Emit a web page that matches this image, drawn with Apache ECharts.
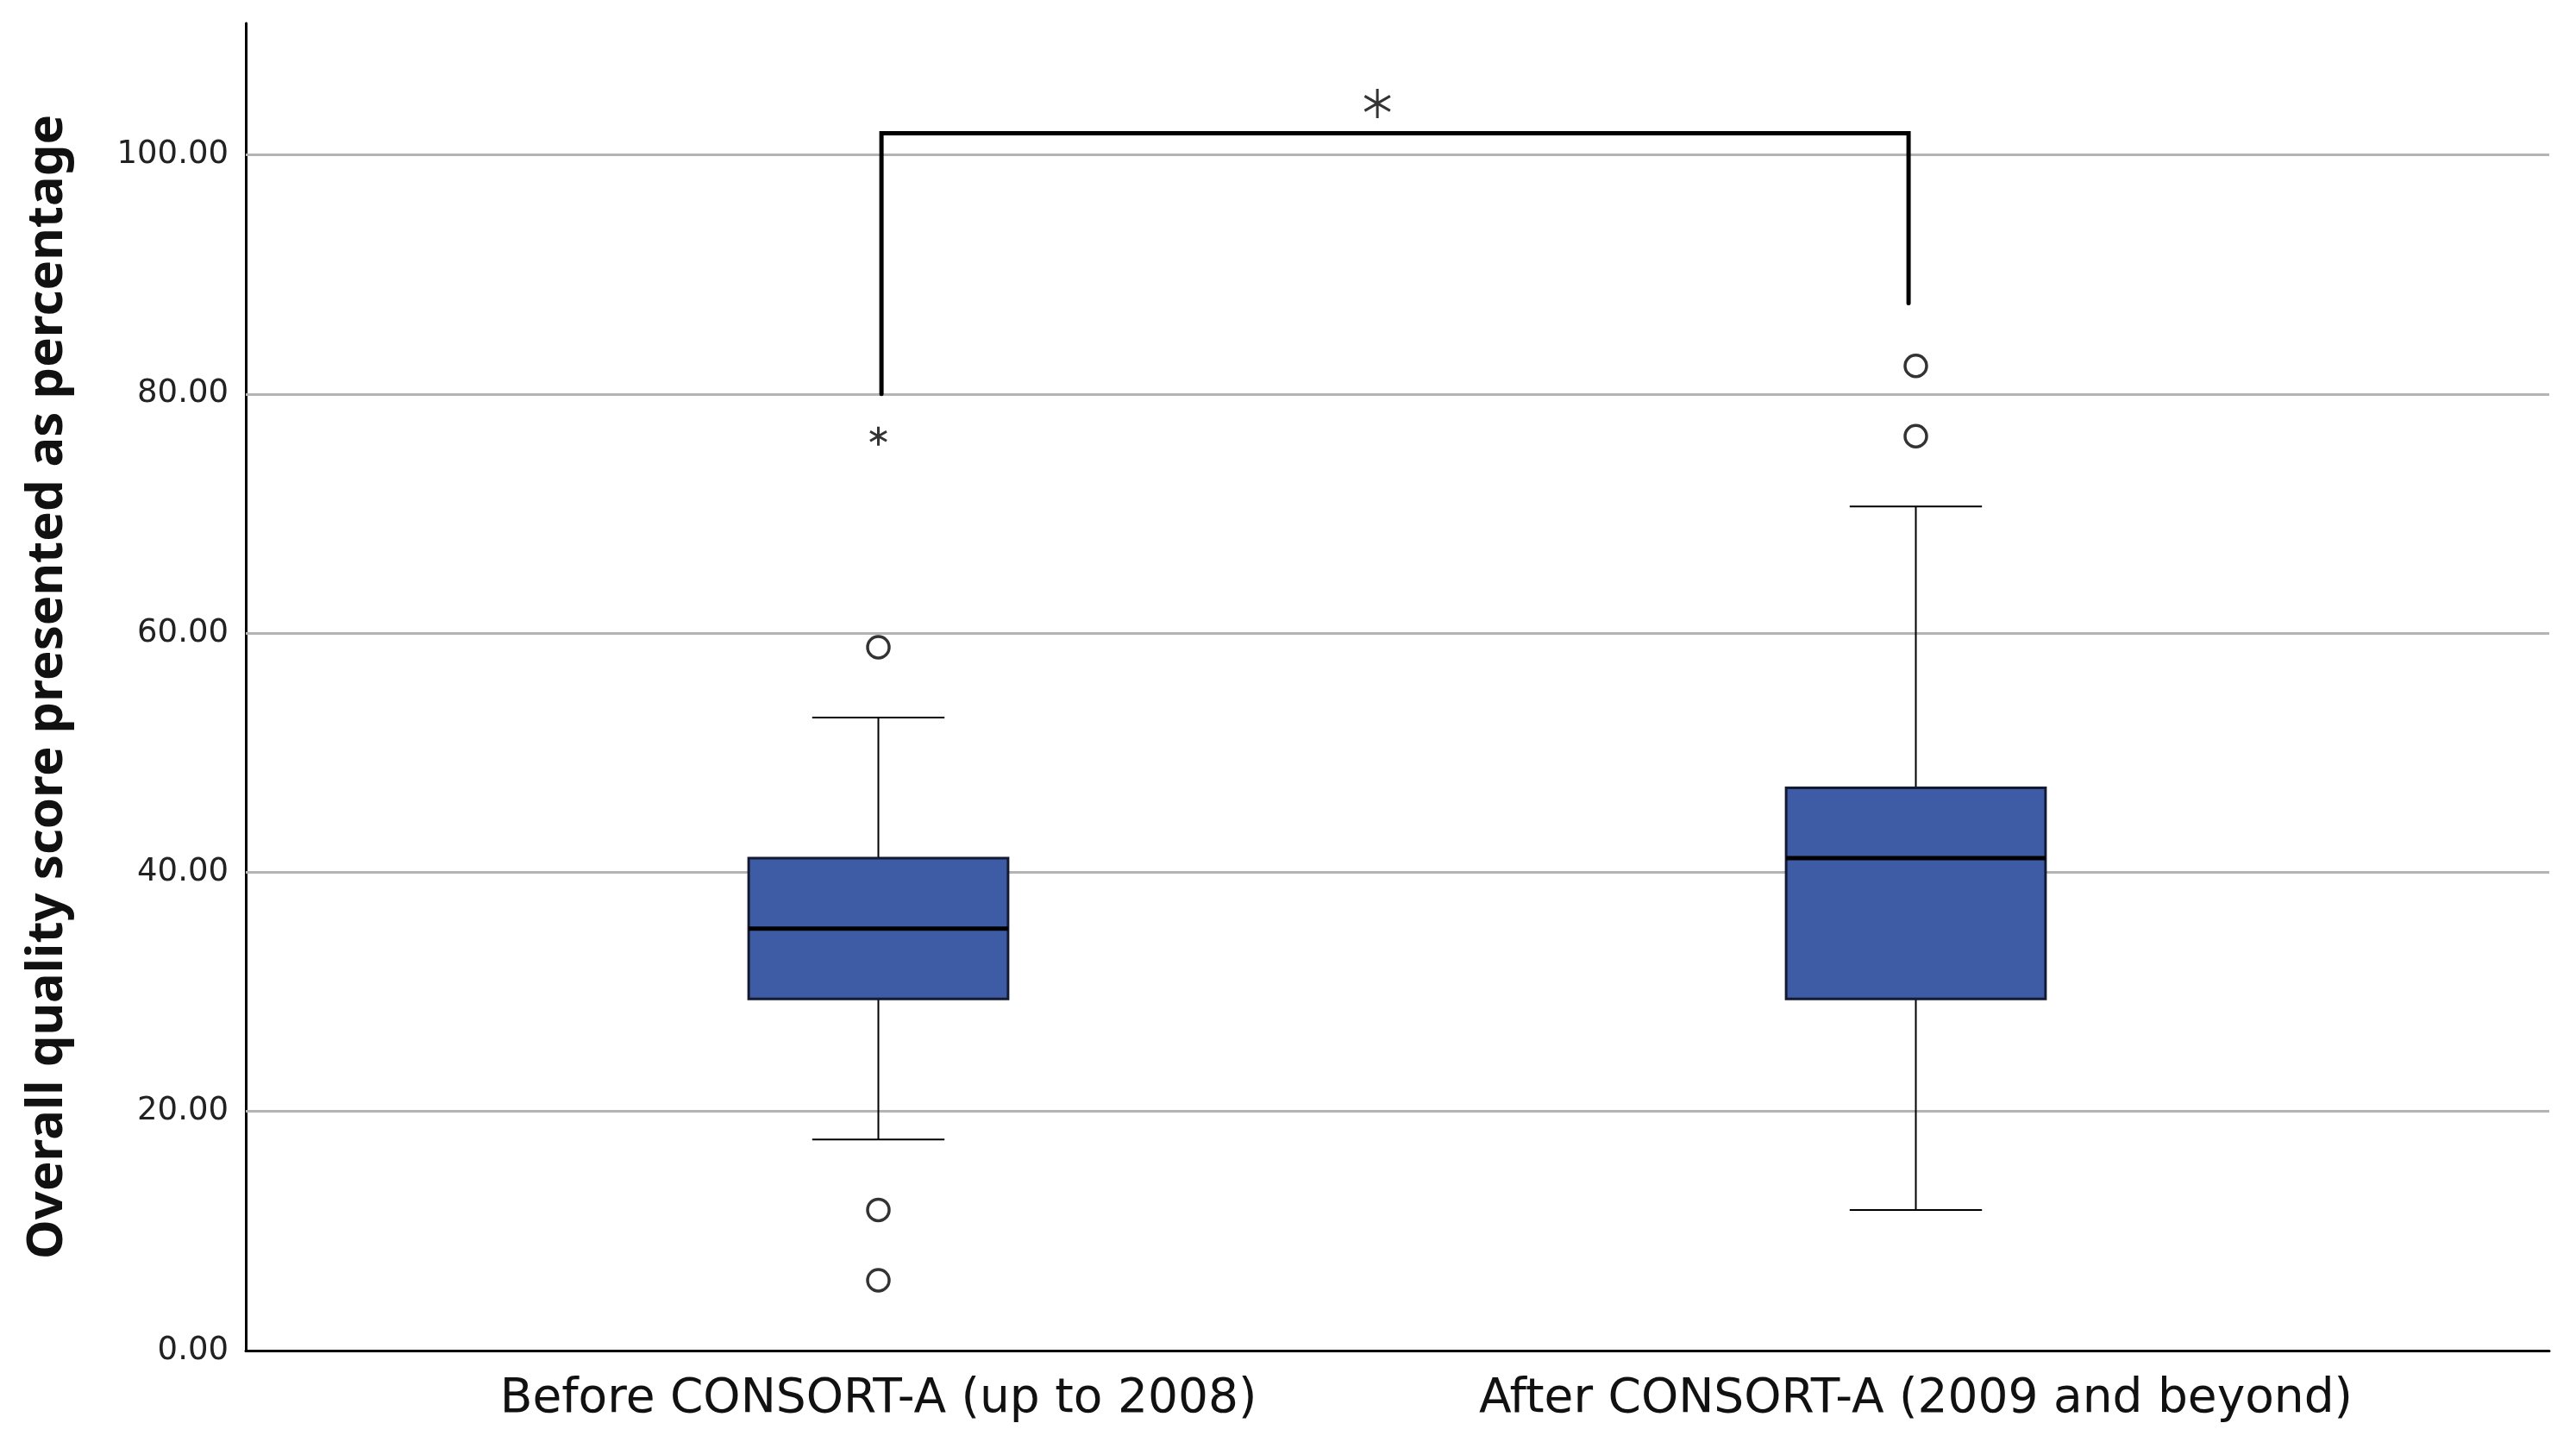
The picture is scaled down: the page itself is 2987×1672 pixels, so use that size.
<!DOCTYPE html>
<html>
<head>
    <meta charset="UTF-8">
    <script src="https://cdn.jsdelivr.net/npm/echarts@6/dist/echarts.min.js"></script>
    <style>
        html, body { margin: 0; padding: 0; background: #fff; }
        #chartMain { width: 2987px; height: 1672px; }
    </style>
</head>
<body>
<div id="chartMain"></div>

<script type="text/javascript">
    var categories = ['Before CONSORT-A (up to 2008)', 'After CONSORT-A (2009 and beyond)'];
    // lower whisker, Q1, median, Q3, upper whisker
    var boxStats = [
        [17.65, 29.41, 35.29, 41.18, 52.94],
        [11.76, 29.41, 41.18, 47.06, 70.59]
    ];
    var outliers = [[0, 58.82], [0, 11.76], [0, 5.88], [1, 76.47], [1, 82.35]];
    var extremes = [[0, 76.47]];
    var yTicks = [20, 40, 60, 80, 100];
    // significance bracket, x in category units
    var bracket = [[0.003, 80], [0.003, 101.8], [0.993, 101.8], [0.993, 87.6]];
    var sigMark = [[0.481, 104.3]];

    var asterisk = 'path://M0,-1L0,1M-0.866,-0.5L0.866,0.5M-0.866,0.5L0.866,-0.5';

    function renderBox(params, api) {
        var i = api.value(0);
        var lo = api.coord([i, api.value(1)]);
        var q1 = api.coord([i, api.value(2)]);
        var med = api.coord([i, api.value(3)]);
        var q3 = api.coord([i, api.value(4)]);
        var hi = api.coord([i, api.value(5)]);
        var band = api.size([1, 0])[0];
        var bw = band * 0.25;
        var cw = bw * 0.51;
        var cx = lo[0];
        var thin = {stroke: '#000', lineWidth: 2};
        return {
            type: 'group',
            children: [
                {type: 'line', shape: {x1: cx, y1: hi[1], x2: cx, y2: q3[1]}, style: thin},
                {type: 'line', shape: {x1: cx, y1: q1[1], x2: cx, y2: lo[1]}, style: thin},
                {type: 'line', shape: {x1: cx - cw / 2, y1: hi[1], x2: cx + cw / 2, y2: hi[1]}, style: thin},
                {type: 'line', shape: {x1: cx - cw / 2, y1: lo[1], x2: cx + cw / 2, y2: lo[1]}, style: thin},
                {
                    type: 'rect',
                    shape: {x: cx - bw / 2, y: q3[1], width: bw, height: q1[1] - q3[1]},
                    style: {fill: '#3e5ba6', stroke: '#151a33', lineWidth: 3}
                },
                {
                    type: 'line',
                    shape: {x1: cx - bw / 2, y1: med[1], x2: cx + bw / 2, y2: med[1]},
                    style: {stroke: '#000', lineWidth: 5}
                }
            ]
        };
    }

    var myChart = echarts.init(document.getElementById('chartMain'));
    var option = {
        animation: false,
        backgroundColor: '#fff',
        grid: [
            {left: 285, right: 31, top: 27, bottom: 106},
            {left: 417, right: 164, top: 27, bottom: 106}
        ],
        xAxis: [
            {
                type: 'value', gridIndex: 0, min: 0, max: 1,
                axisLine: {show: true, lineStyle: {color: '#000', width: 3}},
                axisTick: {show: false}, axisLabel: {show: false}, splitLine: {show: false}
            },
            {
                type: 'category', gridIndex: 1, data: categories,
                axisLine: {show: false}, axisTick: {show: false},
                axisLabel: {
                    margin: 29, fontSize: 55, color: '#111',
                    fontFamily: 'DejaVu Sans', interval: 0
                },
                splitLine: {show: false}
            },
            {
                type: 'value', gridIndex: 1, min: -0.5, max: 1.5, show: false
            }
        ],
        yAxis: [
            {
                type: 'value', gridIndex: 0, min: 0, max: 111, interval: 20,
                name: 'Overall quality score presented as percentage',
                nameLocation: 'middle', nameGap: 201,
                nameTextStyle: {fontFamily: 'Noto Sans', fontWeight: 'bold', fontSize: 58, color: '#111'},
                axisLine: {show: true, lineStyle: {color: '#000', width: 3}},
                axisTick: {show: false},
                axisLabel: {
                    margin: 20, fontSize: 37, color: '#222', fontFamily: 'DejaVu Sans',
                    showMaxLabel: false,
                    formatter: function (v) { return v.toFixed(2); }
                },
                splitLine: {show: false}
            },
            {type: 'value', gridIndex: 1, min: 0, max: 111, show: false}
        ],
        series: [
            {
                type: 'line', xAxisIndex: 0, yAxisIndex: 0, data: [], z: 0,
                markLine: {
                    z: 1,
                    silent: true, symbol: 'none', label: {show: false},
                    lineStyle: {color: '#b4b4b4', width: 3, type: 'solid'},
                    data: yTicks.map(function (v) { return {yAxis: v}; })
                }
            },
            {
                type: 'custom', xAxisIndex: 1, yAxisIndex: 1, z: 3,
                renderItem: renderBox,
                data: boxStats.map(function (s, i) { return [i].concat(s); })
            },
            {
                type: 'scatter', xAxisIndex: 1, yAxisIndex: 1, z: 4,
                symbol: 'circle', symbolSize: 25,
                itemStyle: {color: '#fff', borderColor: '#000', borderWidth: 3.5},
                data: outliers
            },
            {
                type: 'scatter', xAxisIndex: 1, yAxisIndex: 1, z: 4,
                symbol: asterisk, symbolSize: 22, symbolKeepAspect: true,
                itemStyle: {color: '#000', borderColor: '#000', borderWidth: 3},
                data: extremes
            },
            {
                type: 'line', xAxisIndex: 2, yAxisIndex: 1, z: 5,
                symbol: 'none',
                lineStyle: {color: '#000', width: 5, cap: 'round', join: 'miter'},
                data: bracket
            },
            {
                type: 'scatter', xAxisIndex: 2, yAxisIndex: 1, z: 5,
                symbol: asterisk, symbolSize: 34, symbolKeepAspect: true,
                itemStyle: {color: '#000', borderColor: '#000', borderWidth: 3},
                data: sigMark
            }
        ]
    };
    myChart.setOption(option);
</script>
</body>
</html>
